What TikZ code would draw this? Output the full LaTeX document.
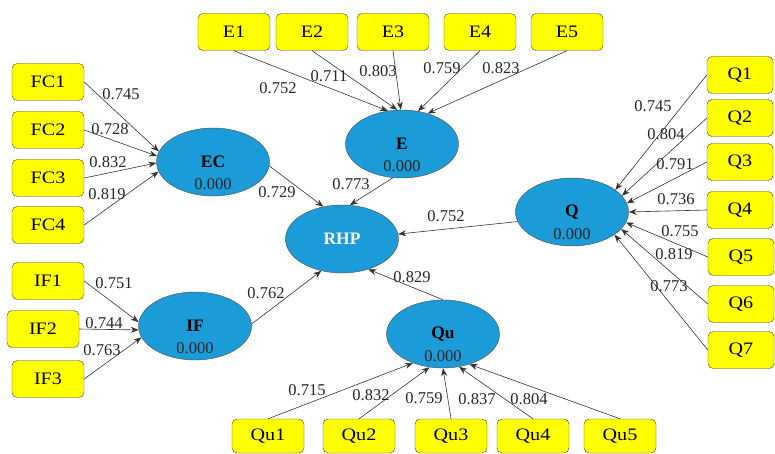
\documentclass[tikz,border=0pt]{standalone}
\usepackage{fontspec}
\setmainfont{Liberation Serif}
\newfontfamily\boxfont[FakeStretch=1.15]{Liberation Serif}
\usepackage{xcolor}
\usetikzlibrary{arrows.meta, shapes.geometric}

\definecolor{lvblue}{HTML}{1B9BD8}
\definecolor{mvyellow}{HTML}{FFFF00}

\tikzset{
	item/.style = {draw=black!75, fill=mvyellow, rounded corners=5pt, minimum width=72pt,
		minimum height=37pt, inner sep=0pt, font=\boxfont\fontsize{17.5}{17.5}\selectfont},
	latent/.style = {ellipse, draw=black!70, fill=lvblue, minimum width=113pt, minimum height=68pt,
		inner sep=0pt, font=\fontsize{17.5}{17.5}\selectfont\bfseries},
	lvvalue/.style = {inner sep=0pt, text=black!85, font=\fontsize{16.5}{17}\selectfont},
	load/.style = {inner sep=0pt, text=black!85, font=\fontsize{16.5}{17}\selectfont},
	link/.style = {-{Stealth[length=8pt,width=6pt]}, draw=black!80, line width=0.6pt}
}

\begin{document}
\begin{tikzpicture}[x=1pt, y=-1pt]
		\useasboundingbox (0,0) rectangle (775,454);
		\clip (0,0) rectangle (775,454);

		% latent variables
		\node[latent] (EC) at (213,162) {EC};
		\node[latent] (E) at (402,144) {E};
		\node[latent] (RHP) at (342,239) {\textcolor{white}{RHP}};
		\node[latent] (Q) at (572,212) {Q};
		\node[latent] (IF) at (195,326) {IF};
		\node[latent] (Qu) at (443,334) {Qu};

		\foreach \lv in {EC, E, Q, IF, Qu}
			\node[lvvalue] (\lv-val) at ([yshift=-22pt]\lv.center) {0.000};

		% FC block
		\foreach \n/\y/\a/\v/\lx/\ly in {1/82/169/0.745/121/94, 2/130/174/0.728/110/129,
			3/178/181/0.832/108/162, 4/225/190/0.819/107/194} {
			\node[item] (FC\n) at (48,\y) {FC\n};
			\draw[link] (FC\n.east) -- (EC.\a);
			\node[load] (FC\n-l) at (\lx,\ly) {\v};
		}

		% E block
		\foreach \n/\x/\a/\v/\lx/\ly in {1/234/113/0.752/278/88, 2/312/98/0.711/329/76,
			3/393/92/0.803/378/71, 4/480/64/0.759/442/68, 5/567/50/0.823/501/68} {
			\node[item] (E\n) at (\x,32) {E\n};
			\draw[link] (E\n.south) -- (E.\a);
			\node[load] (E\n-l) at (\lx,\ly) {\v};
		}

		% Q block
		\foreach \n/\x/\y/\a/\v/\lx/\ly in {1/740/75/27/0.745/653/106, 2/740/118/18/0.804/666/134,
			3/740/162/9/0.791/675/164, 4/740/210/0/0.736/676/199, 5/741/257/-11/0.755/680/231,
			6/741/304/-19/0.819/674/254, 7/741/350/-28/0.773/669/286} {
			\node[item, minimum width=66pt] (Q\n) at (\x,\y) {Q\n};
			\draw[link] (Q\n.west) -- (Q.\a);
			\node[load] (Q\n-l) at (\lx,\ly) {\v};
		}

		% IF block
		\foreach \n/\x/\y/\a/\v/\lx/\ly in {1/48/281/176/0.751/114/283, 2/43/329/184/0.744/104/323,
			3/48/379/192/0.763/102/350} {
			\node[item] (IF\n) at (\x,\y) {IF\n};
			\draw[link] (IF\n.east) -- (IF.\a);
			\node[load] (IF\n-l) at (\lx,\ly) {\v};
		}

		% Qu block
		\foreach \n/\x/\a/\v/\lx/\ly in {1/268/224/0.715/307/390, 2/359/248/0.832/371/395,
			3/451/270/0.759/424/398, 4/533/296/0.837/477/399, 5/620/311/0.804/529/399} {
			\node[item, minimum height=34pt] (Qu\n) at (\x,436) {Qu\n};
			\draw[link] (Qu\n.north) -- (Qu.\a);
			\node[load] (Qu\n-l) at (\lx,\ly) {\v};
		}

		% structural paths
		\begin{scope}[link]
			\draw (EC.-4) -- (RHP.120);
			\draw (E.-105) -- (RHP.77);
			\draw (Q.190) -- (RHP.5);
			\draw (IF.2) -- (RHP.-123);
			\draw (Qu.north) -- (RHP.-49);
		\end{scope}

		\node[load] (EC-RHP) at (277,192) {0.729};
		\node[load] (E-RHP) at (351,184) {0.773};
		\node[load] (Q-RHP) at (446,216) {0.752};
		\node[load] (IF-RHP) at (266,293) {0.762};
		\node[load] (Qu-RHP) at (412,277) {0.829};
	\end{tikzpicture}
\end{document}
